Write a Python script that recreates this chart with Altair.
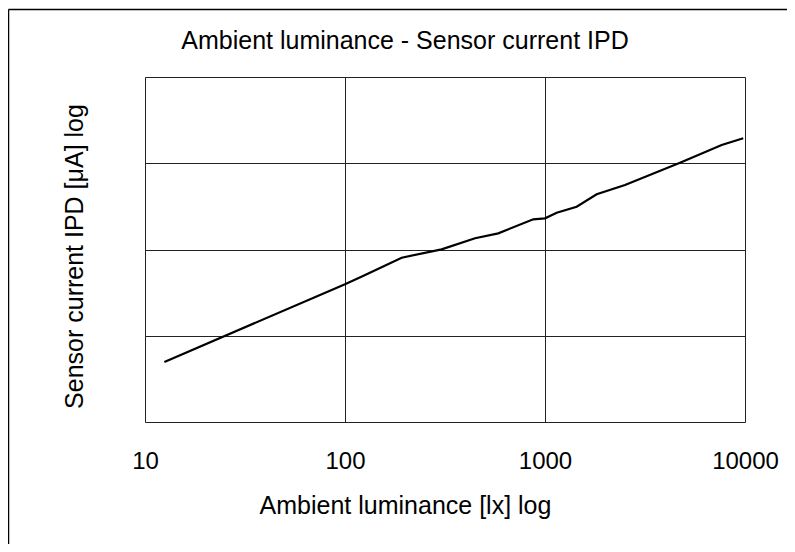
import altair as alt
import pandas as pd

lux = [12.5, 100, 123, 192, 304, 447, 584, 874, 1000, 1144, 1440, 1813, 2512, 4732, 7645, 9800]
ipd = [4.97, 39.5, 49.3, 80.3, 100.5, 135, 154, 224, 230, 267, 313, 437, 560, 1014, 1628, 1946]
x_ticks = [10, 100, 1000, 10000]
y_ticks = [1, 10, 100, 1000, 10000]
chart_title = "Ambient luminance - Sensor current IPD"

df = pd.DataFrame({"lux": lux, "ipd": ipd})
FONT = "Liberation Sans"

line = alt.Chart(df).mark_line(color="black", strokeWidth=2.2).encode(
    x=alt.X("lux:Q",
            scale=alt.Scale(type="log", domain=[10, 10000]),
            axis=alt.Axis(values=x_ticks, format="d", grid=True, ticks=False, domain=False,
                          labelFontSize=24, labelFont=FONT, labelColor="black",
                          labelPadding=27, labelFlush=False,
                          gridColor="#222", gridOpacity=1, gridWidth=1,
                          title="Ambient luminance [lx] log", titleFont=FONT,
                          titleFontSize=25, titleFontWeight="normal", titleColor="black",
                          titleX=260, titleY=91, titleBaseline="alphabetic")),
    y=alt.Y("ipd:Q",
            scale=alt.Scale(type="log", domain=[1, 10000]),
            axis=alt.Axis(values=y_ticks, labels=False, ticks=False, domain=False, grid=True,
                          gridColor="#222", gridOpacity=1, gridWidth=1,
                          title="Sensor current IPD [μA] log", titleFont=FONT,
                          titleFontSize=25, titleFontWeight="normal", titleColor="black",
                          titleX=-63, titleY=179, titleBaseline="alphabetic", titleAngle=270)),
)

frame_data = alt.Data(values=[{}])
top_rule = alt.Chart(frame_data).mark_rule(color="black", strokeWidth=1.5).encode(
    x=alt.value(-136.5), x2=alt.value(650), y=alt.value(-67.5))
left_rule = alt.Chart(frame_data).mark_rule(color="black", strokeWidth=1.5).encode(
    x=alt.value(-136.5), y=alt.value(-67.5), y2=alt.value(480))
title_text = alt.Chart(frame_data).mark_text(
    font=FONT, fontSize=25, color="black", align="center", baseline="alphabetic").encode(
    x=alt.value(260), y=alt.value(-28.5), text=alt.value(chart_title))

chart = alt.layer(line, top_rule, left_rule, title_text).properties(
    width=600, height=345,
    autosize=alt.AutoSizeParams(type="none"),
    padding={"left": 137, "top": 69, "right": 42, "bottom": 122},
).configure_view(stroke="#222", strokeWidth=1.2).configure(background="white")

chart.save("out.html", embed_options={"renderer": "svg", "actions": False})
